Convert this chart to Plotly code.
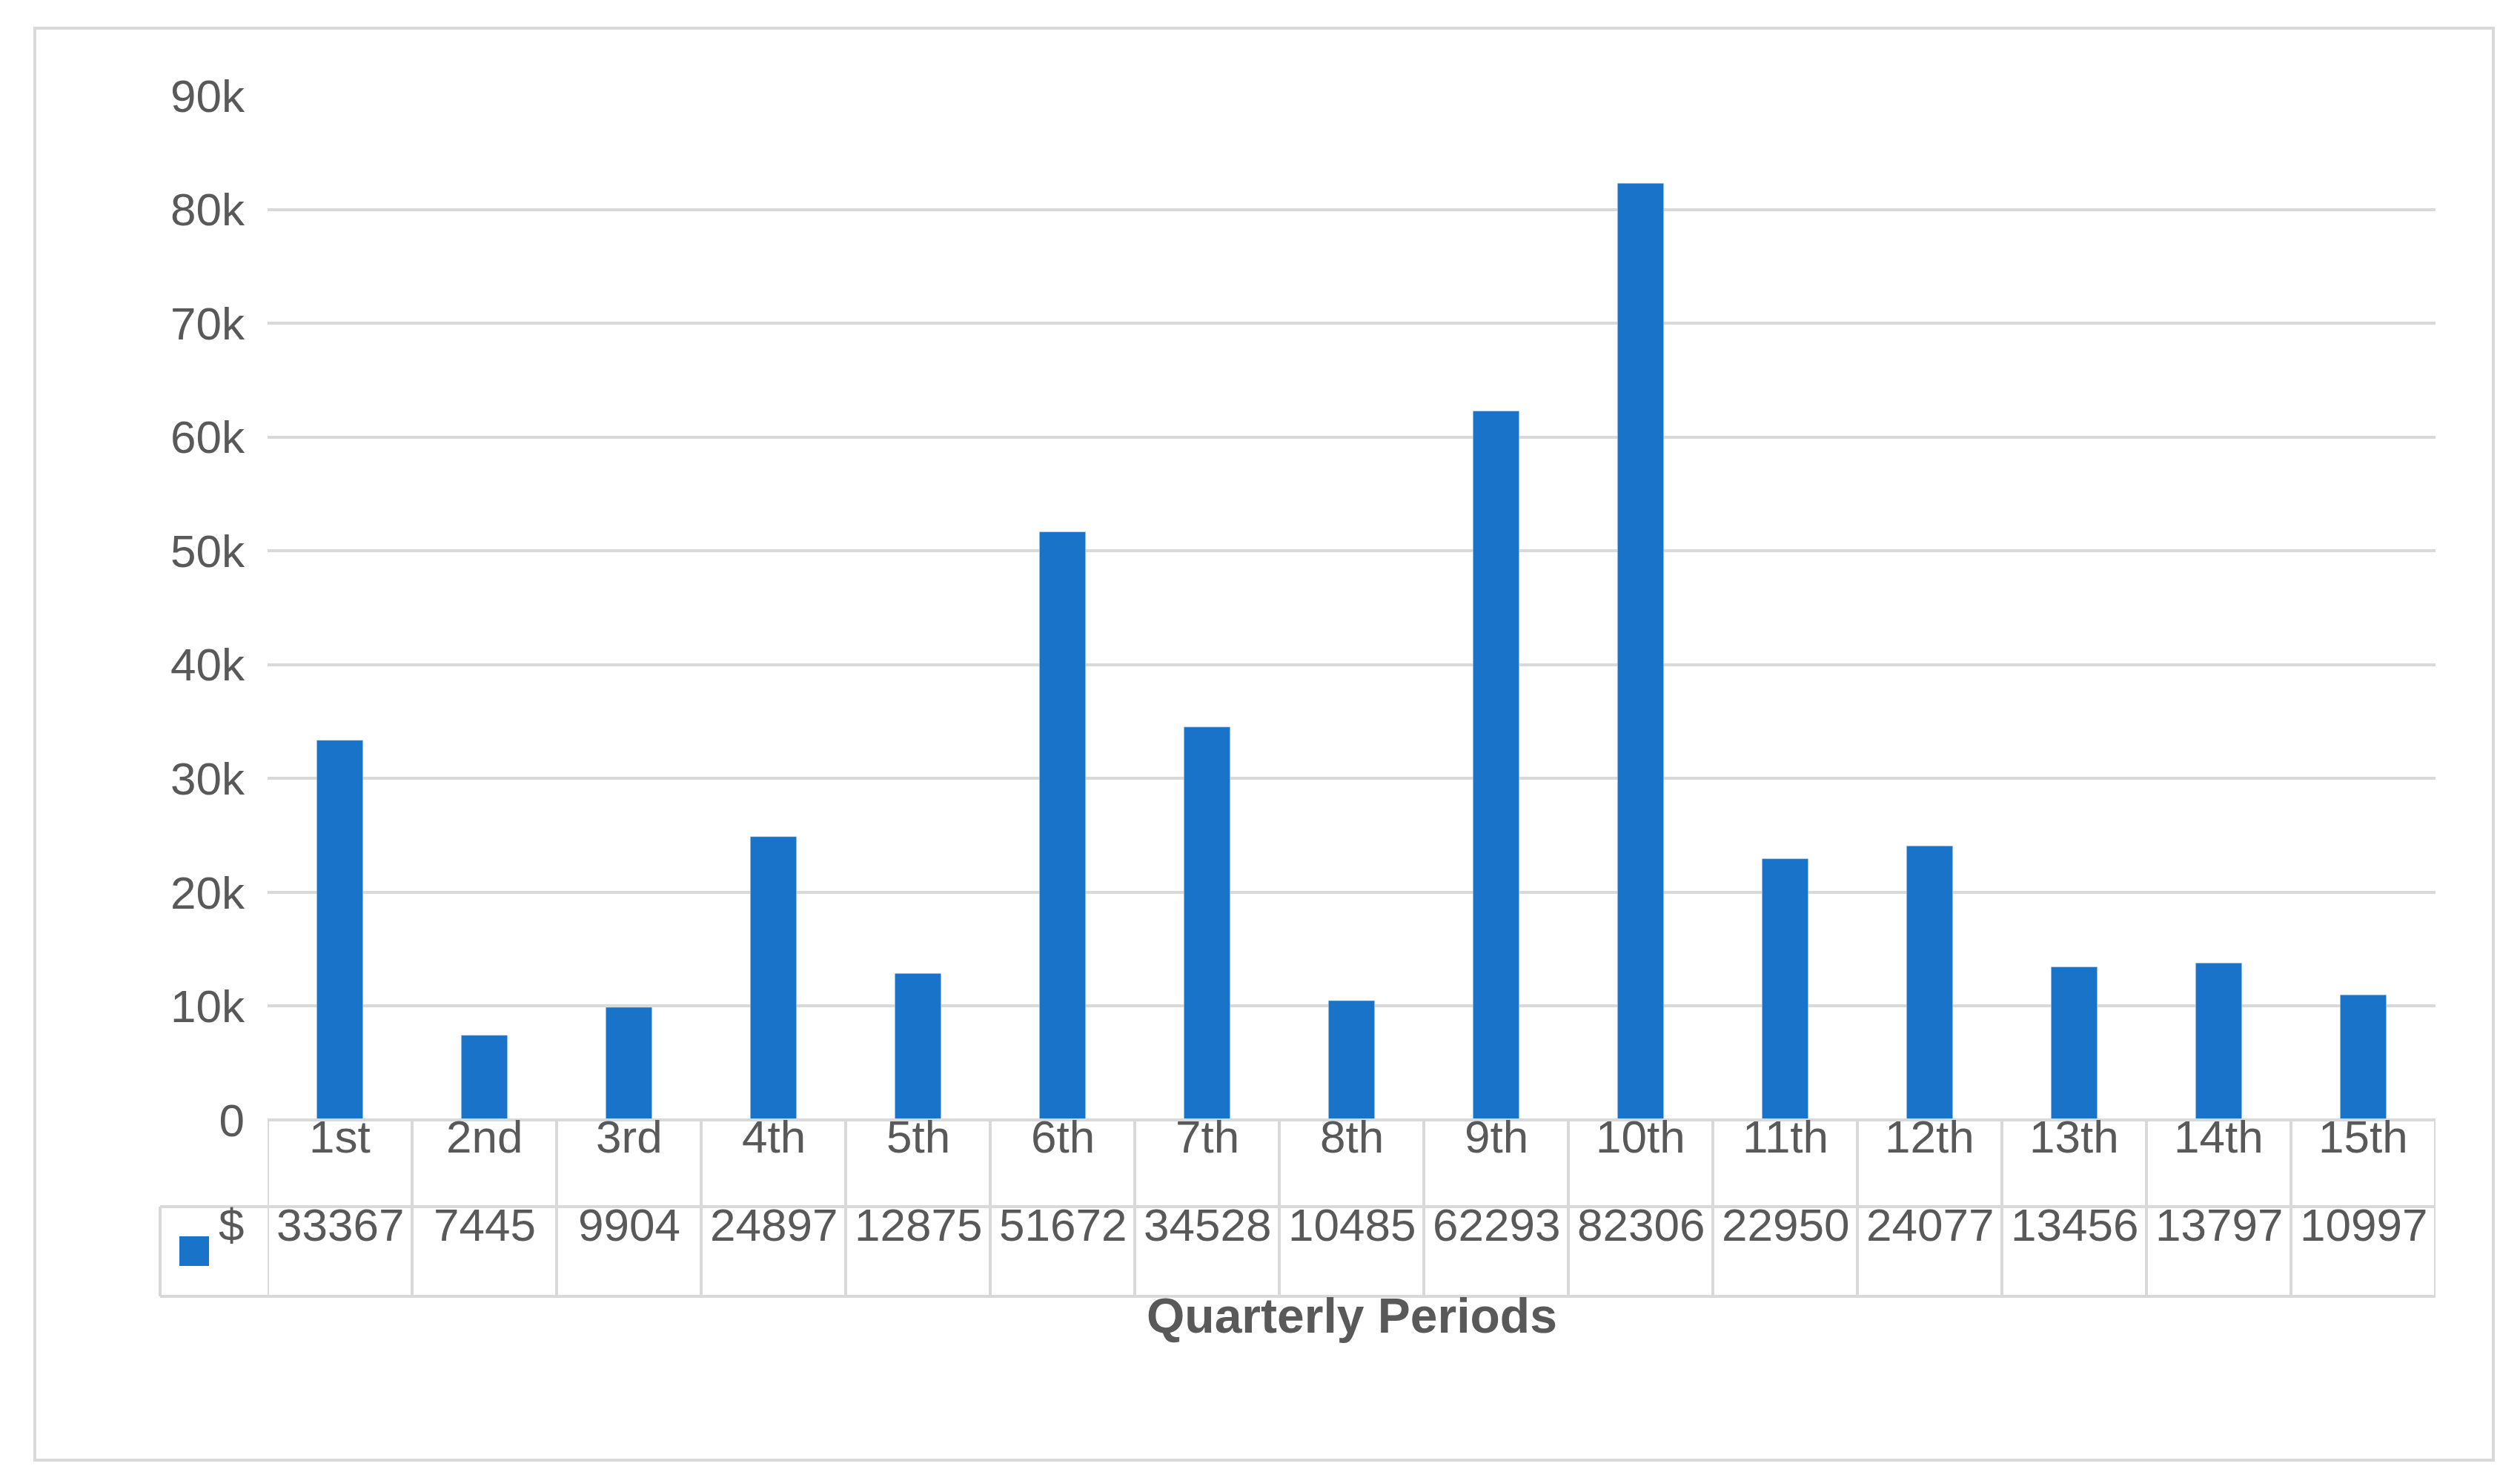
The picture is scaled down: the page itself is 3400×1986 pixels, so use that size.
import plotly.graph_objects as go

categories = ["1st","2nd","3rd","4th","5th","6th","7th","8th","9th","10th","11th","12th","13th","14th","15th"]
values = [33367,7445,9904,24897,12875,51672,34528,10485,62293,82306,22950,24077,13456,13797,10997]
series_name = "$"
x_title = "Quarterly Periods"
tick_vals = [0,10000,20000,30000,40000,50000,60000,70000,80000,90000]

W, H = 3400, 1986
L, R, T, B = 353, 122, 121, 483
ph = H - T - B
pw = W - L - R
def py(Y): return (H - B - Y) / ph
def px(X): return (X - L) / pw

gray = "#595959"
line = "#d9d9d9"
blue = "#1873C9"
font = "Liberation Sans"

fig = go.Figure(go.Bar(x=list(range(len(categories))), y=values, marker_color=blue, width=0.32, name=series_name))

r1 = py(1620); r2 = py(1741)
n = len(categories)
shapes = []
lw = 4
# horizontal lines
shapes.append(dict(type="line", xref="x", yref="paper", x0=-0.5, x1=n-0.5, y0=0, y1=0, line=dict(color=line, width=lw)))
shapes.append(dict(type="line", xref="paper", yref="paper", x0=px(208), x1=1, y0=r1, y1=r1, line=dict(color=line, width=lw)))
shapes.append(dict(type="line", xref="paper", yref="paper", x0=px(208), x1=1, y0=r2, y1=r2, line=dict(color=line, width=lw)))
for i in range(n + 1):
    shapes.append(dict(type="line", xref="x", yref="paper", x0=i-0.5, x1=i-0.5, y0=0, y1=r2, line=dict(color=line, width=lw)))
shapes.append(dict(type="line", xref="paper", yref="paper", x0=px(208), x1=px(208), y0=r1, y1=r2, line=dict(color=line, width=lw)))
# legend key
shapes.append(dict(type="rect", xref="paper", yref="paper", x0=px(234), x1=px(274), y0=py(1700), y1=py(1660), fillcolor=blue, line=dict(width=0)))
# outer border
shapes.append(dict(type="rect", xref="paper", yref="paper", x0=px(39), x1=px(3356), y0=py(1962), y1=py(30), line=dict(color=line, width=4)))

ann = []
fs = 62
for i, c in enumerate(categories):
    ann.append(dict(x=i, y=(0 + r1) / 2, xref="x", yref="paper", text=c, showarrow=False, font=dict(size=fs, color=gray, family=font)))
    ann.append(dict(x=i, y=(r1 + r2) / 2, xref="x", yref="paper", text=str(values[i]), showarrow=False, font=dict(size=fs, color=gray, family=font)))
ann.append(dict(x=px(285), y=(r1 + r2) / 2, xref="paper", yref="paper", text=series_name, showarrow=False, xanchor="left", font=dict(size=fs, color=gray, family=font)))
ann.append(dict(x=0.5, y=py(1806), xref="paper", yref="paper", text="<b>" + x_title + "</b>", showarrow=False, font=dict(size=66, color=gray, family=font)))

fig.update_layout(
    width=W, height=H, margin=dict(l=L, r=R, t=T, b=B),
    plot_bgcolor="white", paper_bgcolor="white", showlegend=False,
    xaxis=dict(range=[-0.5, n-0.5], showticklabels=False, showgrid=False, zeroline=False),
    yaxis=dict(range=[0, 90000], tickvals=tick_vals, showgrid=True, gridcolor=line, gridwidth=4,
               zeroline=False, tickfont=dict(size=fs, color=gray, family=font), ticks="", ticklabelstandoff=30),
    shapes=shapes, annotations=ann,
)
fig.write_html("out.html")
